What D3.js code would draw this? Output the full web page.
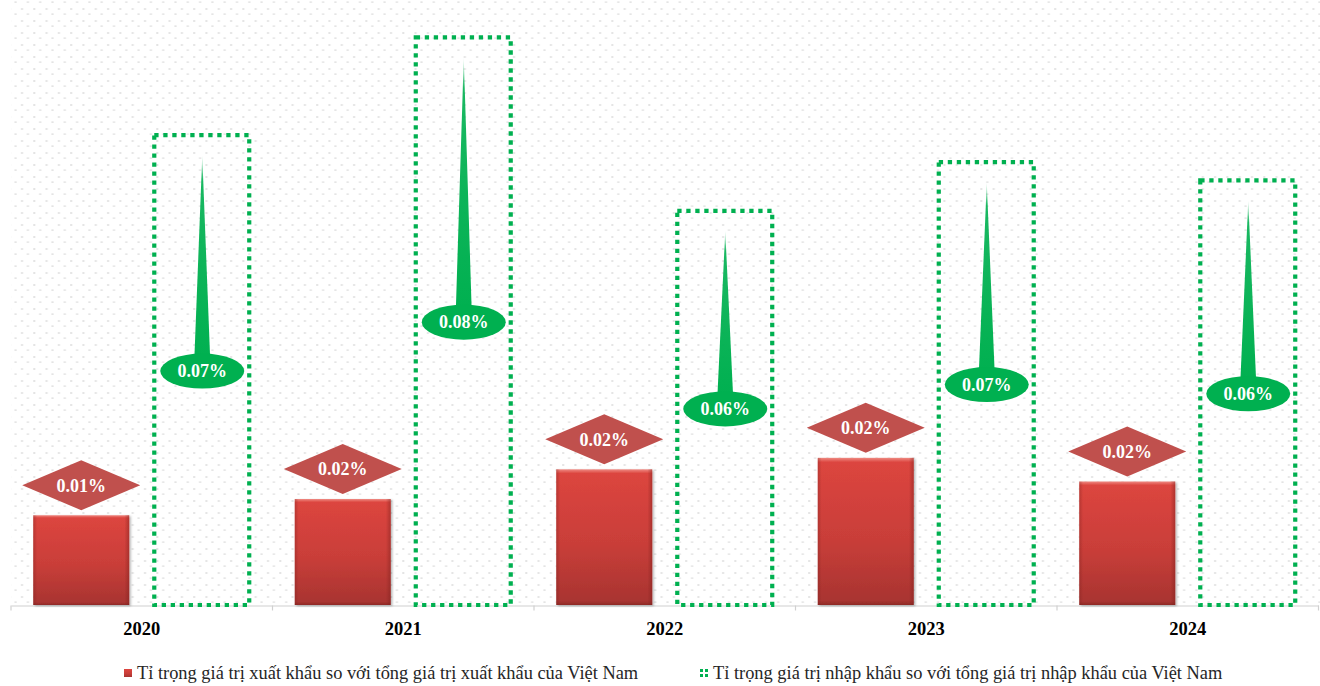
<!DOCTYPE html>
<html>
<head>
<meta charset="utf-8">
<script src="https://cdn.jsdelivr.net/npm/d3@7"></script>
<style>
  html, body { margin: 0; padding: 0; background: #fff; }
  svg { display: block; }
</style>
</head>
<body>
<svg id="chart" width="1320" height="686"></svg>
<script>
// Years on the category axis
const years = ["2020", "2021", "2022", "2023", "2024"];
// Export share of Viet Nam's total export value (%)
const exportShare = [0.0133, 0.0157, 0.0201, 0.0218, 0.0183];
// Import share of Viet Nam's total import value (%)
const importShare = [0.0696, 0.0841, 0.0584, 0.0656, 0.0629];
// Legend entries
const seriesNames = [
  "Tỉ trọng giá trị xuất khẩu so với tổng giá trị xuất khẩu của Việt Nam",
  "Tỉ trọng giá trị nhập khẩu so với tổng giá trị nhập khẩu của Việt Nam"
];

const W = 1320, H = 686;
const plot = { left: 11, right: 1318.5, top: 8, bottom: 605 };
const serif = "'Liberation Serif', 'Times New Roman', serif";
const fmt = v => d3.format(".2f")(v) + "%";

const svg = d3.select("#chart");
const defs = svg.append("defs");

// dotted background texture of the plot area
const pat = defs.append("pattern")
  .attr("id", "dots").attr("patternUnits", "userSpaceOnUse")
  .attr("x", 8.5).attr("y", 1).attr("width", 12.3).attr("height", 12);
pat.append("rect").attr("x", 6).attr("y", 0.5).attr("width", 2.2).attr("height", 1.2).attr("fill", "#d9d9d9");
pat.append("rect").attr("x", 0.2).attr("y", 7).attr("width", 2).attr("height", 2).attr("fill", "#e4e4e4");

// red bar shading
const gRed = defs.append("linearGradient").attr("id", "redV").attr("x1", 0).attr("y1", 0).attr("x2", 0).attr("y2", 1);
gRed.append("stop").attr("offset", "0%").attr("stop-color", "#ef8a82");
gRed.append("stop").attr("offset", "3%").attr("stop-color", "#dc453f");
gRed.append("stop").attr("offset", "55%").attr("stop-color", "#c93e39");
gRed.append("stop").attr("offset", "97%").attr("stop-color", "#a93431");
gRed.append("stop").attr("offset", "100%").attr("stop-color", "#8e2a27");
const gEdge = defs.append("linearGradient").attr("id", "redH").attr("x1", 0).attr("y1", 0).attr("x2", 1).attr("y2", 0);
gEdge.append("stop").attr("offset", "0%").attr("stop-color", "#7a1f1c").attr("stop-opacity", 0.35);
gEdge.append("stop").attr("offset", "4%").attr("stop-color", "#7a1f1c").attr("stop-opacity", 0);
gEdge.append("stop").attr("offset", "95%").attr("stop-color", "#7a1f1c").attr("stop-opacity", 0);
gEdge.append("stop").attr("offset", "100%").attr("stop-color", "#7a1f1c").attr("stop-opacity", 0.45);
const shadow = defs.append("filter").attr("id", "shadow").attr("x", "-10%").attr("y", "-10%").attr("width", "130%").attr("height", "130%");
shadow.append("feDropShadow").attr("dx", 1.5).attr("dy", 1).attr("stdDeviation", 1.2)
  .attr("flood-color", "#000").attr("flood-opacity", 0.3);

// spike fades towards its tip
const gSpike = defs.append("linearGradient").attr("id", "spike").attr("x1", 0).attr("y1", 0).attr("x2", 0).attr("y2", 1);
gSpike.append("stop").attr("offset", "0%").attr("stop-color", "#00b050").attr("stop-opacity", 0.1);
gSpike.append("stop").attr("offset", "12%").attr("stop-color", "#00b050").attr("stop-opacity", 0.9);
gSpike.append("stop").attr("offset", "100%").attr("stop-color", "#00b050").attr("stop-opacity", 1);

// scales
const x = d3.scaleBand().domain(years).range([plot.left, plot.right]).padding(0);
const inner = d3.scaleBand().domain(["xk", "nk"]).range([0, x.bandwidth()])
  .paddingInner(0.207).paddingOuter(0.184);
const y = d3.scaleLinear().domain([0, (plot.bottom - plot.top) / 6750]).range([plot.bottom, plot.top]);

// plot background
svg.append("rect").attr("x", plot.left).attr("y", 0)
  .attr("width", W - plot.left).attr("height", plot.bottom)
  .attr("fill", "url(#dots)");

// category axis
const axis = svg.append("g").attr("transform", `translate(0,${plot.bottom + 0.5})`)
  .call(d3.axisBottom(x).tickSize(0).tickPadding(16).tickFormat(d => d));
axis.select(".domain").attr("stroke", "#d0d0d0").attr("stroke-width", 1.2);
axis.selectAll("text").attr("font-family", serif).attr("font-weight", "bold")
  .attr("font-size", 18.5).attr("fill", "#000");
// boundary ticks between categories
const bounds = years.map(d => x(d)).concat([plot.right]);
axis.selectAll("line.sep").data(bounds).join("line").attr("class", "sep")
  .attr("x1", d => d).attr("x2", d => d).attr("y1", 0).attr("y2", 5)
  .attr("stroke", "#d0d0d0").attr("stroke-width", 1.2);

const data = years.map((yr, i) => ({ yr, ex: exportShare[i], im: importShare[i] }));

// export bars
const ex = svg.append("g");
data.forEach(d => {
  const bx = x(d.yr) + inner("xk"), bw = inner.bandwidth();
  const top = y(d.ex), h = y(0) - y(d.ex);
  ex.append("rect").attr("x", bx).attr("y", top).attr("width", bw).attr("height", h)
    .attr("fill", "url(#redV)").attr("filter", "url(#shadow)");
  ex.append("rect").attr("x", bx).attr("y", top).attr("width", bw).attr("height", h)
    .attr("fill", "url(#redH)");
  // diamond label
  const cx = bx + bw / 2, cy = top - 30;
  ex.append("polygon")
    .attr("points", [[cx - 59, cy], [cx, cy - 25], [cx + 59, cy], [cx, cy + 25]].map(p => p.join(",")).join(" "))
    .attr("fill", "#c0504d");
  ex.append("text").attr("x", cx).attr("y", cy).attr("dy", "0.35em")
    .attr("text-anchor", "middle").attr("font-family", serif).attr("font-weight", "bold")
    .attr("font-size", 18).attr("fill", "#fff").text(fmt(d.ex));
});

// import bars (dotted outline) with callouts
const im = svg.append("g");
data.forEach(d => {
  const bx = x(d.yr) + inner("nk"), bw = inner.bandwidth();
  const top = y(d.im), h = y(0) - y(d.im);
  im.append("rect").attr("x", bx).attr("y", top).attr("width", bw - 1).attr("height", h)
    .attr("fill", "none").attr("stroke", "#00b050").attr("stroke-width", 4.2)
    .attr("stroke-dasharray", "4.3 4.7");
  const cx = bx + bw / 2, cy = top + h / 2 + 1;
  const tipY = top + 20, baseY = cy - 10;
  im.append("polygon")
    .attr("points", [[cx, tipY], [cx + 8, baseY], [cx - 8, baseY]].map(p => p.join(",")).join(" "))
    .attr("fill", "url(#spike)");
  im.append("ellipse").attr("cx", cx).attr("cy", cy).attr("rx", 42).attr("ry", 17.5)
    .attr("fill", "#00b050");
  im.append("text").attr("x", cx).attr("y", cy).attr("dy", "0.35em")
    .attr("text-anchor", "middle").attr("font-family", serif).attr("font-weight", "bold")
    .attr("font-size", 18).attr("fill", "#fff").text(fmt(d.im));
});

// legend
const leg = svg.append("g").attr("font-family", serif).attr("font-size", 18.4).attr("fill", "#262626");
const l1 = leg.append("g").attr("transform", "translate(124,669)");
l1.append("rect").attr("width", 8).attr("height", 8).attr("fill", "url(#redV)");
l1.append("text").attr("x", 13).attr("y", 4).attr("dy", "0.35em").text(seriesNames[0]);
const l2 = leg.append("g").attr("transform", "translate(700,669)");
[[0, 0], [5, 0], [0, 5], [5, 5]].forEach(p => {
  l2.append("rect").attr("x", p[0]).attr("y", p[1]).attr("width", 3).attr("height", 3).attr("fill", "#00b050");
});
l2.append("text").attr("x", 13).attr("y", 4).attr("dy", "0.35em").text(seriesNames[1]);
</script>
</body>
</html>
